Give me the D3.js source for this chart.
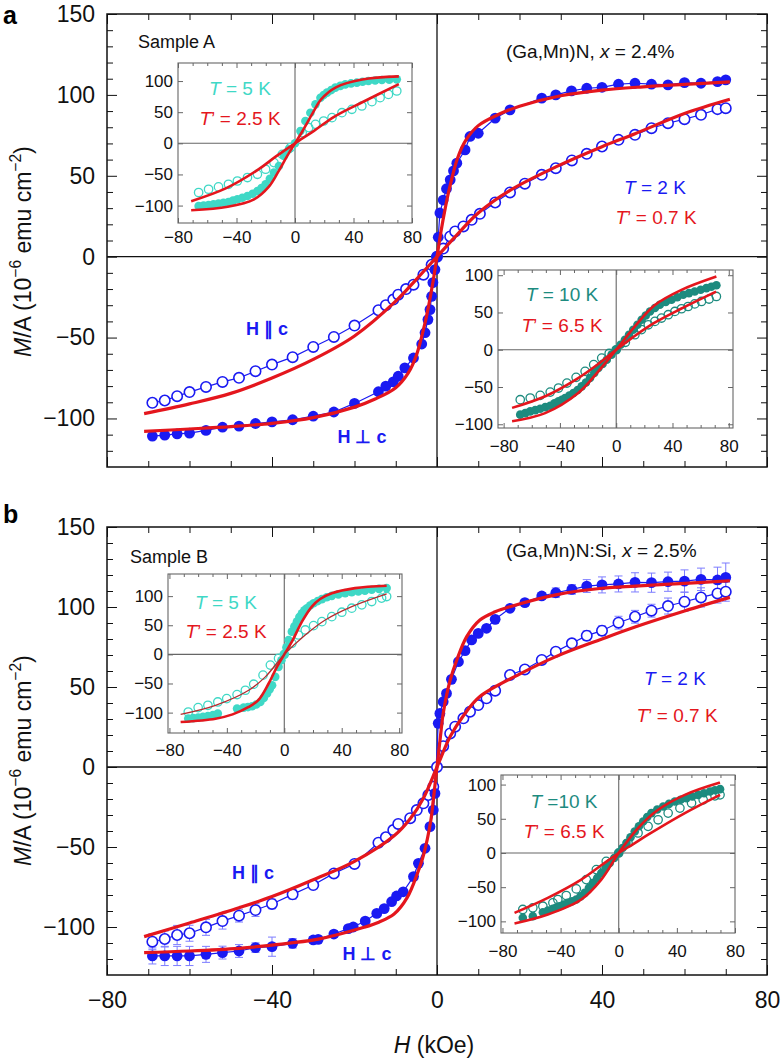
<!DOCTYPE html>
<html><head><meta charset="utf-8">
<script src="https://cdn.jsdelivr.net/npm/d3@7"></script>
<style>body{margin:0;background:#fff}</style>
</head><body><script>
// ---------------- DATA ----------------
// main panel a: [H (kOe), M/A]
const aPerp = [[-69,-110.9],[-66,-110.3],[-63,-109.5],[-60,-109.1],[-56,-107.4],[-52,-105.4],[-48,-104.7],[-44,-103.1],[-40,-102.1],[-35,-100.8],[-30,-98.6],[-25,-96],[-20,-90.7],[-14.2,-83.5],[-12.4,-80],[-10.6,-77.4],[-9.4,-73.9],[-7.8,-68.7],[-5.7,-62.6],[-3.7,-54],[-2.9,-47],[-2.2,-38.9],[-1.7,-32.7],[-1.3,-24.5],[-1,-16],[-0.5,-8],[0,0],[0.3,12],[0.7,27],[1.5,35],[2.3,42],[3.2,47.5],[4,53],[4.8,57.8],[6.8,66],[8,74.3],[10,76.3],[14.1,85.6],[17.7,90.7],[25.4,98],[28.8,100],[32.6,102.5],[36.3,104.1],[40,104.7],[44,106.6],[48,107.2],[52,106.6],[56,106.2],[60,107.6],[64,107.2],[68,108.2],[70,109.3]];
const aPar = [[-69,-90.3],[-66,-88.9],[-63,-86.2],[-60,-83.7],[-56,-80.5],[-52,-77.4],[-48,-74.9],[-44,-70.8],[-40,-66.7],[-35,-62.1],[-30,-55.8],[-25,-49.6],[-20,-42.6],[-14.2,-33.1],[-12.4,-30],[-10.6,-26.5],[-9.4,-23.5],[-7.5,-20],[-5.7,-17.3],[-3.3,-11.1],[-1.3,-5],[0,0],[1.5,5],[3.2,12.5],[4.4,15.6],[6.4,18.7],[8.4,22.8],[10.4,26.5],[14.1,33.5],[17.7,39.7],[21.3,45.1],[25.4,50.6],[28.8,54.7],[32.7,59.5],[36.3,63.6],[40,68.1],[44,72.2],[48,75.3],[52,79.4],[56,82.5],[60,85],[64,87.7],[68,91.2],[70,91.8]];
const aPerpFit = [[-71,-108],[-60,-106.5],[-50,-105],[-40,-103],[-30,-99.5],[-20,-93],[-15,-88],[-10,-81],[-7,-72],[-5,-61],[-3,-42],[-2,-30],[-1,-16],[0,0],[1,16],[2,30],[3,42],[5,61],[7,72],[10,81],[15,88],[20,93],[30,99.5],[40,103],[50,105],[60,106.5],[71,108]];
const aParFit = [[-71,-97],[-60,-91],[-50,-84.5],[-40,-75],[-30,-63.5],[-20,-49],[-10,-27.5],[-5,-14],[0,0],[5,14],[10,27],[17.7,41],[28.8,55.5],[40,68],[48,76],[60,88.5],[71,97.3]];
// main panel b: [H, M/A, error]
const bPerp = [[-69,-118.1,5],[-66,-118.1,6],[-63,-118.1,6],[-60,-118.1,6],[-56,-117.1,5],[-52,-116,4],[-48,-115,4],[-44,-112.9,3],[-40,-112.3,6],[-35,-110.2,3],[-30,-108.1,2],[-28.8,-107.7,2],[-25,-104.4,2],[-21.5,-101,2],[-20.3,-100,2],[-17.4,-96.3,0],[-14.6,-91.5,0],[-12.8,-88.5,0],[-11,-84.2,0],[-9.8,-80.6,0],[-8.2,-78,0],[-5.7,-68.5,0],[-4.5,-60.2,0],[-2.9,-50.8,0],[-1.7,-37.3,0],[-0.9,-26.9,0],[-0.5,-16.5,0],[0.3,27.3,0],[0.7,33.5,0],[1.5,40.8,0],[2.3,46,0],[3.5,54.8,0],[5.2,65.8,0],[6.8,72.7,0],[8.4,79.4,0],[10,83.5,0],[12,86.7,0],[14.1,92.3,0],[17.7,99.2,1],[21.3,102.7,2],[25.4,106.9,2],[28.8,108.9,3],[32.7,111,3],[36.3,113.1,4],[40,113.8,5],[44,114.4,5],[48,115.4,6],[52,115.2,6],[56,115.8,6],[60,116.2,7],[64,117.3,7],[68,116.9,8],[70,118.5,9]];
const bPar = [[-69,-109.2,5],[-66,-107.5,5],[-63,-105,6],[-60,-103.9,5],[-56,-100.2,5],[-52,-96.3,5],[-48,-92.9,4],[-44,-89.4,4],[-40,-85.6,3],[-35,-79.6,3],[-30,-73.8,2],[-25,-66.5,2],[-20,-60.6,2],[-14.2,-47.3,0],[-12.4,-43.9,0],[-10.6,-39.4,0],[-9.4,-35.6,0],[-6.5,-32,0],[-4.9,-26.9,0],[-3.3,-22.7,0],[-2.1,-17.5,0],[-0.9,-12.3,0],[0,0,0],[1.5,13,0],[3.2,21,0],[4.4,25.2,0],[6.4,30.4,0],[8,34.6,0],[10,38.7,0],[12,42.9,0],[14.1,47.7,0],[17.7,57.5,0],[21.3,61,1],[25.4,66.9,2],[28.8,72.1,2],[32.7,77.3,2],[36.3,82.1,3],[40,85.2,3],[44,90.2,4],[48,93.9,4],[52,97.7,4],[56,100.6,5],[60,103.3,6],[64,106,6],[68,108.5,6],[70,109.6,6]];
const bPerpFit = [[-71,-116],[-60,-115],[-48,-113.3],[-40,-111.3],[-28.8,-107.6],[-17.7,-100.2],[-14.1,-97],[-10.4,-91.9],[-7.2,-81.5],[-4.8,-66.9],[-3.2,-54.4],[-1.5,-33.5],[-1,-23],[0,0],[1,23],[1.5,33.5],[3.2,54.4],[4.8,66.9],[7.2,81.5],[10.4,91.9],[14.1,97],[17.7,100.2],[28.8,107.6],[40,111.7],[48,113.1],[60,114.8],[71,116.4]];
const bParFit = [[-71,-106],[-60,-97.5],[-48,-88],[-40,-81],[-30,-70.5],[-20,-59],[-10.4,-43],[-6.4,-32],[-3.2,-19],[0,0],[3.2,19],[6.4,32],[10.4,44],[20,58],[28.8,69],[40,80],[48,87.5],[60,97.5],[71,106]];
// inset a, T = 5 K
const a5Perp = [[-65.9,-100.6],[-62.5,-100],[-59.1,-99],[-55.7,-98],[-52.3,-96.8],[-48.9,-95.5],[-45.5,-94.2],[-42.4,-92],[-39.4,-89.9],[-36,-87.5],[-32.5,-84.6],[-29,-81],[-25.7,-76.6],[-22.9,-72],[-20.1,-65.8],[-17.2,-57],[-14.4,-47],[-11,-36.4],[-7.6,-20.3],[-4.2,-9.6],[0,0],[3.7,19.8],[7.1,35.8],[10.5,49.2],[14,62.6],[17.4,73.3],[19.6,77.5],[21.9,81.4],[24.8,85.5],[27.6,89.4],[31,92.3],[34.4,94.7],[38.3,96.2],[42.3,97.4],[46.2,98.8],[50.2,100],[54.8,100.8],[59.4,101.6],[64.5,102.2],[69.6,102.7]];
const a5Par = [[-65.9,-79],[-59.1,-73.8],[-52.3,-70],[-45.5,-65.8],[-39.4,-60.5],[-32.5,-55],[-25.7,-49.8],[-20.1,-41.7],[-14.4,-31],[-8.7,-17.7],[-3.1,-7],[4.9,17.1],[9.4,25.2],[14,30.5],[19.6,35.8],[25.3,41.2],[32.1,49.2],[38.9,54.6],[45.7,59.9],[52.6,66.9],[58.2,73.3],[63.9,78.6],[69.6,84]];
const a5PerpFit = [[-71,-107.5],[-46,-102],[-28,-90],[-18,-70],[-11.5,-46],[-5,-19],[0,0],[5,19],[11.5,46],[18,71],[28,90],[46,102.5],[71,107.5]];
const a5ParFit = [[-71,-93],[-47,-72],[-25,-42],[-13,-21],[0,0],[13,20],[27,43],[46,66],[71,95]];
// inset a, T = 10 K
const a10Perp = [[-68.2,-87.1],[-64.6,-85],[-61.1,-82.7],[-57.5,-81],[-54,-79.1],[-50.4,-77],[-46.9,-75.1],[-43.9,-72],[-41,-69.3],[-38.6,-67],[-36.3,-64.8],[-33.3,-61.5],[-30.4,-58],[-27.4,-54],[-24.5,-49.1],[-21.5,-44],[-18.6,-38],[-15.6,-31],[-12.7,-24.6],[-9.7,-19],[-6.7,-13.4],[-3.3,-6.5],[0,0],[3.1,6.7],[6.2,13.4],[9.1,20],[12.1,26.8],[15.1,33.5],[18.1,40.2],[21,46],[24,51.4],[27.5,56],[31,60.3],[35.2,64],[39.3,67],[43.4,70.5],[47.6,73.7],[51.7,76],[55.8,78.2],[60,80.5],[64.1,82.7],[67.6,84.5],[71.2,86.5]];
const a10Par = [[-68.2,-67],[-61.1,-64.8],[-54,-61.2],[-46.9,-56.8],[-41,-51.4],[-35,-44.7],[-28.5,-37],[-22.1,-29],[-16,-20],[-10.3,-11.2],[-5,-5],[0,0],[6.5,10],[13.3,20.1],[18,27],[22.8,33.5],[27.5,38],[32.2,42.5],[37,47],[41.7,51.4],[46.4,55],[51.1,58],[55.8,61.5],[60.6,64.8],[66,68],[71.2,71.5]];
const a10PerpFit = [[-74,-96],[-50.5,-85],[-27,-58],[-12.7,-29],[0,0],[13.3,31.3],[27.5,60],[46.4,80.4],[71.2,98.3]];
const a10ParFit = [[-74,-78],[-50,-62],[-27,-38],[-12,-18],[0,0],[12,17],[27,36],[46,55],[71,78]];
// inset b, T = 5 K
const b5Perp = [[-66.9,-110.3],[-63.5,-109.5],[-60,-108.6],[-56.6,-107.3],[-53.2,-105.9],[-49.7,-104],[-46.3,-101.7],[-32.9,-93.1],[-28.3,-91.4],[-25.3,-90.5],[-22.4,-89.1],[-19.5,-86],[-16.7,-81.7],[-14.3,-75],[-12,-67.2],[-10.2,-60],[-8.5,-52.9],[-6.3,-38.6],[-4,-21.4],[-2,-10],[0,0],[1.5,12],[3,24.7],[5.3,39],[7,48],[8.8,56.2],[10.5,64],[12.3,70.7],[14,75.5],[15.8,79.3],[18,84],[20.4,87.9],[23.3,91.5],[26.2,94.8],[29.6,98],[33.1,100.5],[37.7,103],[42.4,105.2],[47,106.7],[51.6,107.9],[56.2,109.5],[60.9,110.9],[66,112.5],[71.3,113.8]];
const b5Par = [[-66.9,-99],[-60,-91.4],[-53.2,-87.4],[-46.3,-81.7],[-40.1,-75.9],[-32.9,-69],[-27.1,-61.6],[-21.3,-51.2],[-14.8,-35.7],[-9.7,-18.4],[-4,-6.9],[0,0],[5.3,19],[9.9,33.3],[14.6,41.9],[20.4,49.3],[26.2,56.2],[33.1,64.8],[40.1,72.4],[47,79.3],[54,85],[60.9,90.7],[67.8,96.6],[71.3,99.3]];
const b5PerpFit = [[-72.2,-116.2],[-47.9,-110.4],[-36,-103],[-24.8,-90.3],[-17.9,-78],[-10.9,-50],[-5.1,-21.4],[0,0],[5.3,21.7],[12.3,56.2],[19.2,82.1],[25,95],[33.1,105],[49.3,113.8],[71.3,117.8]];
const b5ParFit = [[-72.2,-102.9],[-47.9,-87.4],[-24.8,-61.6],[-13.2,-38.6],[0,0],[14.6,33.3],[28.5,59.1],[47,82.1],[71.3,104]];
// inset b, T = 10 K
const b10Perp = [[-66,-94.8],[-59.1,-92.4],[-52.2,-86.6],[-48.7,-84],[-45.3,-81.6],[-43,-79.7],[-40.7,-77.8],[-37.8,-75.3],[-35,-72.9],[-32.1,-70.5],[-29.2,-68.1],[-26.3,-63.5],[-23.4,-58.3],[-20.5,-51],[-17.7,-43.7],[-14.8,-36.5],[-12,-29.2],[-9.1,-22],[-6.2,-14.6],[-3.1,-7.3],[0,0],[2.6,7.3],[5.3,14.6],[8.1,23],[11,31.5],[13.9,39],[16.8,46.1],[19.6,52.5],[22.5,58.3],[26.5,63.5],[30.6,68],[34.6,71.8],[38.6,75.2],[42.6,77.8],[46.6,80.2],[50.6,82.6],[54.7,85],[58.7,87.4],[62.8,89.8],[66.2,91.6],[69.7,93.3]];
const b10Par = [[-66,-82.6],[-59.1,-80.2],[-52.2,-77.8],[-45.3,-72.9],[-41.9,-68.1],[-36.1,-62.2],[-29.2,-52.5],[-22.3,-38.9],[-15.4,-24.3],[-8.6,-12.2],[0,0],[6.4,14.6],[13.3,29.2],[20.2,38.9],[27.1,48.5],[34,58.3],[42.1,65.6],[50.1,72.9],[58.1,77.7],[66.2,83.5],[69.7,85]];
const b10PerpFit = [[-71.7,-103],[-48.8,-89.9],[-25.8,-68],[-12,-38.9],[0,0],[13.3,36.4],[27.1,63.1],[45.5,85],[69.7,103]];
const b10ParFit = [[-71.7,-87.5],[-48.8,-65.6],[-25.8,-38.9],[-12,-18],[0,0],[10,13],[20.2,26.7],[45.5,58.3],[69.7,85]];
// ticks
const mainXDomain = [-80, 80];
const mainYDomain = [-130, 150];
const mainYTicks = [-100, -50, 0, 50, 100, 150];
const mainYMinor = [-120,-110,-90,-80,-70,-60,-40,-30,-20,-10,10,20,30,40,60,70,80,90,110,120,130,140];
const mainXTicks = [-80, -40, 0, 40, 80];
const mainXMinor = [-70,-60,-50,-30,-20,-10,10,20,30,50,60,70];
const insetYTicks = [-100, -50, 0, 50, 100];
const insetXTicks = [-80, -40, 0, 40, 80];
const insetXMinor = [-70,-60,-50,-30,-20,-10,10,20,30,50,60,70];

// ---------------- DRAWING ----------------
const FONT = '"Liberation Sans", Arial, Helvetica, sans-serif';
const BLUE = "#1a1af2", ERR = "#7d7dff", RED = "#e4161d", CYAN = "#3fd8c6", TEAL = "#1d8b7f", DRED = "#b52a2e";
const svg = d3.select("body").append("svg").attr("width", 781).attr("height", 1061)
  .style("font-family", FONT);
const fmt = d3.format("d");

function rich(parent, x, y, parts, size, color, anchor, weight, transform) {
  const t = parent.append("text").attr("font-size", size).attr("fill", color)
    .attr("text-anchor", anchor || "start").attr("font-family", FONT);
  if (weight) t.attr("font-weight", weight);
  if (transform) t.attr("transform", transform); else t.attr("x", x).attr("y", y);
  let shift = 0;
  parts.forEach(p => {
    const s = t.append("tspan").text(p[0]);
    if (p[1] === "i") s.attr("font-style", "italic");
    if (p[1] === "sup") { s.attr("font-size", size * 0.68).attr("dy", -size * 0.42); shift = size * 0.42; }
    else if (shift) { s.attr("dy", shift); shift = 0; }
  });
  return t;
}

function styleAxis(sel, size) {
  sel.select(".domain").remove();
  sel.attr("font-family", null).attr("font-size", null);
  sel.selectAll("text").attr("font-size", size).attr("font-family", FONT).attr("fill", "#111");
  sel.selectAll("line").attr("stroke", "#111");
}

function drawMain(p) {
  const g = svg.append("g");
  const x = d3.scaleLinear().domain(mainXDomain).range([p.left, p.right]);
  const y = d3.scaleLinear().domain(mainYDomain).range([p.bottom, p.top]);
  const ax = (gen, tx, ty) => g.append("g").attr("transform", `translate(${tx},${ty})`).call(gen);
  ax(d3.axisLeft(y).tickValues(mainYTicks).tickSize(-10).tickPadding(12).tickFormat(fmt), p.left, 0).call(s => styleAxis(s, 23));
  ax(d3.axisLeft(y).tickValues(mainYMinor).tickSize(-6).tickFormat(""), p.left, 0).call(s => styleAxis(s, 23));
  ax(d3.axisRight(y).tickValues(mainYTicks).tickSize(-10).tickFormat(""), p.right, 0).call(s => styleAxis(s, 23));
  ax(d3.axisRight(y).tickValues(mainYMinor).tickSize(-6).tickFormat(""), p.right, 0).call(s => styleAxis(s, 23));
  ax(d3.axisTop(x).tickValues(mainXTicks).tickSize(-10).tickFormat(""), 0, p.top).call(s => styleAxis(s, 23));
  ax(d3.axisTop(x).tickValues(mainXMinor).tickSize(-6).tickFormat(""), 0, p.top).call(s => styleAxis(s, 23));
  ax(d3.axisBottom(x).tickValues(mainXTicks).tickSize(-10).tickPadding(17).tickFormat(p.xLabels ? fmt : ""), 0, p.bottom).call(s => styleAxis(s, 23));
  ax(d3.axisBottom(x).tickValues(mainXMinor).tickSize(-6).tickFormat(""), 0, p.bottom).call(s => styleAxis(s, 23));
  // frame & zero lines
  g.append("rect").attr("x", p.left).attr("y", p.top).attr("width", p.right - p.left).attr("height", p.bottom - p.top)
    .attr("fill", "none").attr("stroke", "#111").attr("stroke-width", 1.5);
  g.append("line").attr("x1", x(0)).attr("x2", x(0)).attr("y1", p.top).attr("y2", p.bottom).attr("stroke", "#111").attr("stroke-width", 1.3);
  g.append("line").attr("x1", p.left).attr("x2", p.right).attr("y1", y(0)).attr("y2", y(0)).attr("stroke", "#111").attr("stroke-width", 1.3);

  // error bars
  [p.perp, p.par].forEach(ser => {
    const e = g.append("g").attr("stroke", ERR).attr("stroke-width", 1);
    ser.filter(d => d[2] > 0).forEach(d => {
      const cx = x(d[0]), y1 = y(d[1] - d[2]), y2 = y(d[1] + d[2]);
      e.append("line").attr("x1", cx).attr("x2", cx).attr("y1", y1).attr("y2", y2);
      e.append("line").attr("x1", cx - 4).attr("x2", cx + 4).attr("y1", y1).attr("y2", y1);
      e.append("line").attr("x1", cx - 4).attr("x2", cx + 4).attr("y1", y2).attr("y2", y2);
    });
  });
  const line = d3.line().x(d => x(d[0])).y(d => y(d[1]));
  [p.perp, p.par].forEach(ser => g.append("path").datum(ser).attr("d", line).attr("fill", "none").attr("stroke", BLUE).attr("stroke-width", 1.2));
  g.append("g").selectAll("circle").data(p.par).join("circle").attr("cx", d => x(d[0])).attr("cy", d => y(d[1])).attr("r", 5.2)
    .attr("fill", "#fff").attr("stroke", BLUE).attr("stroke-width", 1.6);
  g.append("g").selectAll("circle").data(p.perp).join("circle").attr("cx", d => x(d[0])).attr("cy", d => y(d[1])).attr("r", 5.4)
    .attr("fill", BLUE);
  const fit = d3.line().curve(d3.curveCatmullRom.alpha(0.5)).x(d => x(d[0])).y(d => y(d[1]));
  [p.perpFit, p.parFit].forEach(f => g.append("path").datum(f).attr("d", fit).attr("fill", "none").attr("stroke", RED).attr("stroke-width", 3.2));
  return g;
}

function drawInset(p) {
  const g = svg.append("g");
  const x = d3.scaleLinear().domain(p.xd).range([p.left, p.right]);
  const y = d3.scaleLinear().domain(p.yd).range([p.bottom, p.top]);
  g.append("rect").attr("x", p.left).attr("y", p.top).attr("width", p.right - p.left).attr("height", p.bottom - p.top).attr("fill", "#fff");
  g.append("line").attr("x1", x(0)).attr("x2", x(0)).attr("y1", p.top).attr("y2", p.bottom).attr("stroke", "#666").attr("stroke-width", 1.1);
  g.append("line").attr("x1", p.left).attr("x2", p.right).attr("y1", y(0)).attr("y2", y(0)).attr("stroke", "#666").attr("stroke-width", 1.1);
  const ax = (gen, tx, ty) => g.append("g").attr("transform", `translate(${tx},${ty})`).call(gen).call(s => { styleAxis(s, 17); s.selectAll("line").attr("stroke", "#666"); });
  ax(d3.axisLeft(y).tickValues(insetYTicks).tickSize(-5).tickPadding(5).tickFormat(fmt), p.left, 0);
  ax(d3.axisRight(y).tickValues(insetYTicks).tickSize(-5).tickFormat(""), p.right, 0);
  ax(d3.axisBottom(x).tickValues(insetXTicks).tickSize(-5).tickPadding(p.xPad).tickFormat(fmt), 0, p.bottom);
  ax(d3.axisBottom(x).tickValues(insetXMinor).tickSize(-3).tickFormat(""), 0, p.bottom);
  ax(d3.axisTop(x).tickValues(insetXTicks).tickSize(-5).tickFormat(""), 0, p.top);
  ax(d3.axisTop(x).tickValues(insetXMinor).tickSize(-3).tickFormat(""), 0, p.top);
  g.append("rect").attr("x", p.left).attr("y", p.top).attr("width", p.right - p.left).attr("height", p.bottom - p.top)
    .attr("fill", "none").attr("stroke", "#666").attr("stroke-width", 1.1);
  g.append("g").selectAll("circle").data(p.perp).join("circle").attr("cx", d => x(d[0])).attr("cy", d => y(d[1])).attr("r", 4.3).attr("fill", p.color);
  g.append("g").selectAll("circle").data(p.par).join("circle").attr("cx", d => x(d[0])).attr("cy", d => y(d[1])).attr("r", 4.2)
    .attr("fill", "none").attr("stroke", p.color).attr("stroke-width", 1.3);
  const fit = d3.line().curve(d3.curveCatmullRom.alpha(0.5)).x(d => x(d[0])).y(d => y(d[1]));
  g.append("path").datum(p.perpFit).attr("d", fit).attr("fill", "none").attr("stroke", RED).attr("stroke-width", 2.6);
  g.append("path").datum(p.parFit).attr("d", fit).attr("fill", "none").attr("stroke", p.parColor || RED).attr("stroke-width", p.parW || 2.6);
  rich(g, p.lx, p.ly1, [["T", "i"], [p.t1]], 19, p.color, "middle");
  rich(g, p.lx, p.ly2, [["T", "i"], [p.t2]], 19, RED, "middle");
}

// Panel a
drawMain({ left: 107, right: 767, top: 14, bottom: 467, xLabels: false,
  perp: aPerp, par: aPar, perpFit: aPerpFit, parFit: aParFit });
// Panel b
drawMain({ left: 107, right: 767, top: 527, bottom: 975, xLabels: true,
  perp: bPerp, par: bPar, perpFit: bPerpFit, parFit: bParFit });

drawInset({ left: 178, right: 412, top: 63, bottom: 223, xd: [-80, 80], yd: [-128, 129], xPad: 8,
  perp: a5Perp, par: a5Par, perpFit: a5PerpFit, parFit: a5ParFit, color: CYAN,
  lx: 240, ly1: 95, ly2: 125, t1: " = 5 K", t2: "\u2019 = 2.5 K" });
drawInset({ left: 498, right: 733, top: 270, bottom: 428, xd: [-84, 83], yd: [-105, 107], xPad: 12,
  perp: a10Perp, par: a10Par, perpFit: a10PerpFit, parFit: a10ParFit, color: TEAL,
  lx: 562, ly1: 301, ly2: 332, t1: " = 10 K", t2: "\u2019 = 6.5 K" });
drawInset({ left: 168, right: 402, top: 574, bottom: 733, xd: [-81, 82], yd: [-135, 138], xPad: 11,
  perp: b5Perp, par: b5Par, perpFit: b5PerpFit, parFit: b5ParFit, color: CYAN, parColor: DRED, parW: 1.3,
  lx: 226, ly1: 609, ly2: 638, t1: " = 5 K", t2: "\u2019 = 2.5 K" });
drawInset({ left: 501, right: 735, top: 775, bottom: 933, xd: [-81, 80], yd: [-117, 114], xPad: 12,
  perp: b10Perp, par: b10Par, perpFit: b10PerpFit, parFit: b10ParFit, color: TEAL,
  lx: 564, ly1: 808, ly2: 838, t1: " =10 K", t2: "\u2019 = 6.5 K" });

// annotations
const ann = svg.append("g");
rich(ann, 3, 24, [["a"]], 25, "#000", "start", "bold");
rich(ann, 3, 523, [["b"]], 25, "#000", "start", "bold");
rich(ann, 138, 48, [["Sample A"]], 18, "#111");
rich(ann, 130, 563, [["Sample B"]], 18, "#111");
rich(ann, 506, 58, [["(Ga,Mn)N, "], ["x", "i"], [" = 2.4%"]], 19, "#111");
rich(ann, 506, 557, [["(Ga,Mn)N:Si, "], ["x", "i"], [" = 2.5%"]], 19, "#111");
rich(ann, 655, 194, [["T", "i"], [" = 2 K"]], 19, BLUE, "middle");
rich(ann, 656, 224, [["T", "i"], ["\u2019 = 0.7 K"]], 19, RED, "middle");
rich(ann, 675, 685, [["T", "i"], [" = 2 K"]], 19, BLUE, "middle");
rich(ann, 677, 722, [["T", "i"], ["\u2019 = 0.7 K"]], 19, RED, "middle");
rich(ann, 267, 335, [["H \u2225 c"]], 18, BLUE, "middle", "bold");
rich(ann, 362, 443, [["H \u22A5 c"]], 18, BLUE, "middle", "bold");
rich(ann, 253, 879, [["H \u2225 c"]], 18, BLUE, "middle", "bold");
rich(ann, 367, 960, [["H \u22A5 c"]], 18, BLUE, "middle", "bold");
const ylab = [["M", "i"], ["/A (10"], ["\u22126", "sup"], [" emu cm"], ["\u22122", "sup"], [")"]];
rich(ann, 0, 0, ylab, 23, "#111", "start", null, "translate(31,357) rotate(-90)");
rich(ann, 0, 0, ylab, 23, "#111", "start", null, "translate(31,866) rotate(-90)");
rich(ann, 434, 1053, [["H", "i"], [" (kOe)"]], 23, "#111", "middle");
</script></body></html>
